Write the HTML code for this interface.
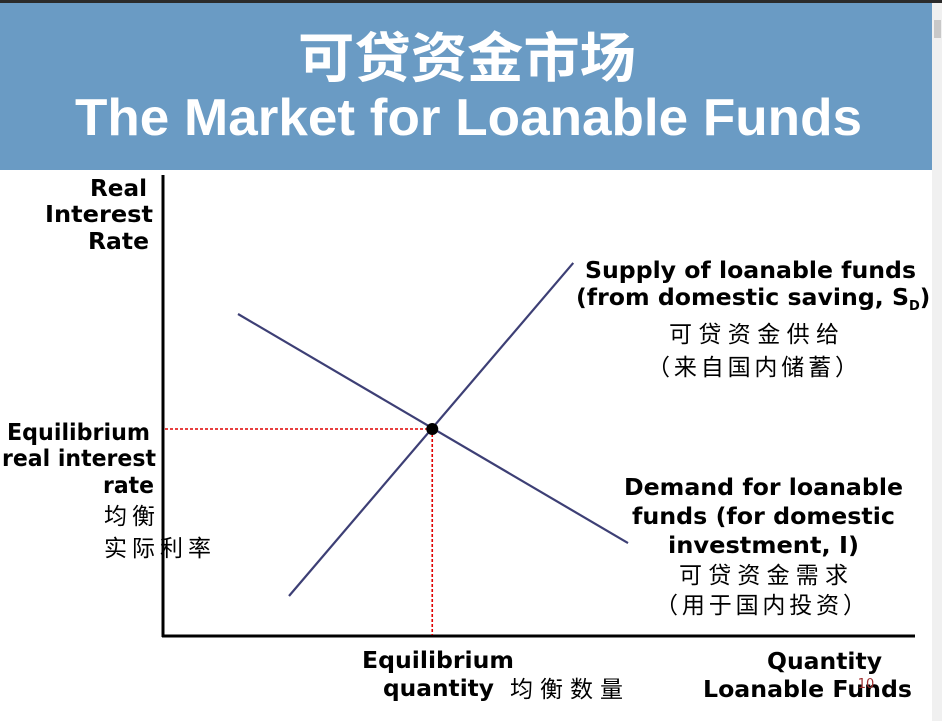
<!DOCTYPE html>
<html><head><meta charset="utf-8"><style>
html,body{margin:0;padding:0;width:942px;height:721px;overflow:hidden;background:#fff}
svg text{font-family:"DejaVu Sans","Noto Sans CJK SC",sans-serif}
svg text.t{font-family:"Liberation Sans","Noto Sans CJK SC",sans-serif}
</style></head><body>
<svg id="c" width="942" height="721" xmlns="http://www.w3.org/2000/svg">
<rect x="0" y="0" width="942" height="3" fill="#2b2b2b"/>
<rect x="0" y="3" width="932" height="167" fill="#6a9bc4"/>
<rect x="932" y="3" width="10" height="718" fill="#f0f0f0"/>
<rect x="934" y="20" width="7" height="18" fill="#c8c8c8"/>
<text class="t" x="298" y="77" textLength="338" lengthAdjust="spacingAndGlyphs" font-size="54" font-weight="bold" fill="#fff">可贷资金市场</text>
<text class="t" x="75" y="135" textLength="787" lengthAdjust="spacingAndGlyphs" font-size="52" font-weight="bold" fill="#fff">The Market for Loanable Funds</text>
<g id="axes"></g>
<g id="marks"></g>
<g font-weight="bold" font-size="23" fill="#000" lengthAdjust="spacingAndGlyphs">
<text x="90" y="196" textLength="57" lengthAdjust="spacingAndGlyphs">Real</text>
<text x="45" y="222" textLength="108" lengthAdjust="spacingAndGlyphs">Interest</text>
<text x="88" y="249" textLength="61" lengthAdjust="spacingAndGlyphs">Rate</text>
<text x="7" y="440" textLength="143" lengthAdjust="spacingAndGlyphs">Equilibrium</text>
<text x="2" y="466" textLength="154" lengthAdjust="spacingAndGlyphs">real interest</text>
<text x="103" y="493" textLength="51" lengthAdjust="spacingAndGlyphs">rate</text>
<text x="362" y="668" textLength="152" lengthAdjust="spacingAndGlyphs">Equilibrium</text>
<text x="383" y="696" textLength="111" lengthAdjust="spacingAndGlyphs">quantity</text>
<text x="767" y="669" textLength="115" lengthAdjust="spacingAndGlyphs">Quantity</text>
<text x="703" y="697" textLength="209" lengthAdjust="spacingAndGlyphs">Loanable Funds</text>
<text x="585" y="278" textLength="331" lengthAdjust="spacingAndGlyphs">Supply of loanable funds</text>
<text x="576" y="305"><tspan textLength="333" lengthAdjust="spacingAndGlyphs">(from domestic saving, S</tspan><tspan font-size="13" dy="5">D</tspan><tspan dy="-5">)</tspan></text>
<text x="624" y="495" textLength="279" lengthAdjust="spacingAndGlyphs">Demand for loanable</text>
<text x="632" y="524" textLength="263" lengthAdjust="spacingAndGlyphs">funds (for domestic</text>
<text x="668" y="553" textLength="191" lengthAdjust="spacingAndGlyphs">investment, I)</text>
</g>
<g font-size="23" fill="#000">
<text x="669" y="342" textLength="170" lengthAdjust="spacing">可贷资金供给</text>
<text x="647" y="375" textLength="211" lengthAdjust="spacing">（来自国内储蓄）</text>
<text x="679" y="583" textLength="169" lengthAdjust="spacing">可贷资金需求</text>
<text x="655" y="613" textLength="211" lengthAdjust="spacing">（用于国内投资）</text>
<text x="104" y="524" textLength="51" lengthAdjust="spacing">均衡</text>
<text x="104" y="556" textLength="107" lengthAdjust="spacing">实际利率</text>
<text x="510" y="697" textLength="113" lengthAdjust="spacing">均衡数量</text>
</g>
<text x="866" y="688" text-anchor="middle" font-size="13" fill="#a03030">10</text>
</svg>
<script>
const demandQ=[10,62];
const demandR=[70,20.2];
const supplyQ=[16.8,54.7];
const supplyR=[8.7,81.1];
const eqQ=[35.9];
const eqR=[45];
const X0=163,Y0=636;
function xs(q){return X0+q*7.5;}
function ys(r){return Y0-r*4.6;}
const NS='http://www.w3.org/2000/svg';
function mk(tag,attrs,parent){const e=document.createElementNS(NS,tag);for(const k in attrs)e.setAttribute(k,attrs[k]);document.getElementById(parent).appendChild(e);return e;}
let a=mk('line',{x1:X0,y1:175,x2:X0,y2:Y0+1,stroke:'#000','stroke-width':3},'axes');


a=mk('line',{x1:X0-1,y1:Y0,x2:915,y2:Y0,stroke:'#000','stroke-width':3},'axes');


let l=mk('line',{x1:xs(demandQ[0]),y1:ys(demandR[0]),x2:xs(demandQ[1]),y2:ys(demandR[1]),stroke:'#3d3f75','stroke-width':2.2},'marks');


l=mk('line',{x1:xs(supplyQ[0]),y1:ys(supplyR[0]),x2:xs(supplyQ[1]),y2:ys(supplyR[1]),stroke:'#3d3f75','stroke-width':2.2},'marks');


l=mk('line',{x1:X0+2,y1:ys(eqR[0]),x2:xs(eqQ[0]),y2:ys(eqR[0]),stroke:'#e00000','stroke-width':1.6,'stroke-dasharray':'3,2'},'marks');


l=mk('line',{x1:xs(eqQ[0]),y1:ys(eqR[0]),x2:xs(eqQ[0]),y2:Y0-1,stroke:'#e00000','stroke-width':1.6,'stroke-dasharray':'3,2'},'marks');


l=mk('circle',{cx:xs(eqQ[0]),cy:ys(eqR[0]),r:6,fill:'#000'},'marks');


</script>
</body></html>
